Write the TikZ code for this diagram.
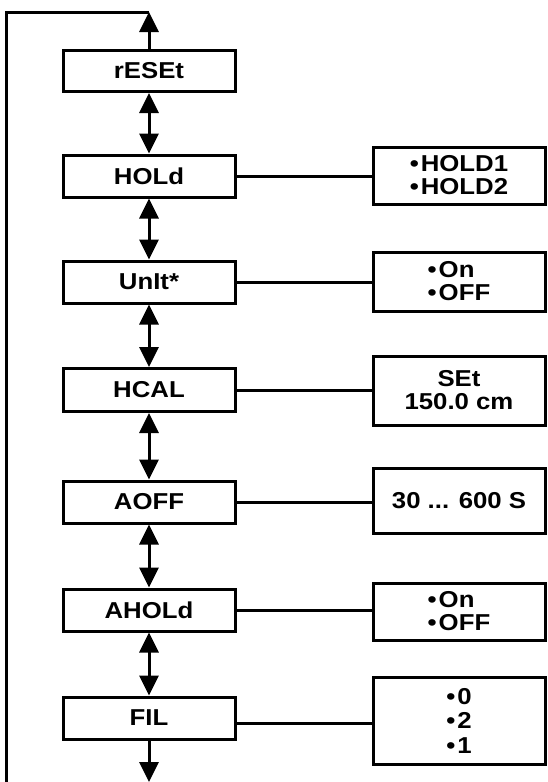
\documentclass[tikz,border=0pt]{standalone}
\usepackage{fontspec}
\setmainfont{Liberation Sans}
\newfontfamily\diagfont[FakeStretch=1.12]{Liberation Sans}
\usetikzlibrary{arrows.meta}
\newcommand{\bul}{\textbullet\hspace{2pt}}
\begin{document}
\begin{tikzpicture}[x=1pt,y=-1pt,
  menubox/.style={draw,line width=3pt,minimum width=172pt,inner sep=0pt,font=\diagfont\bfseries\fontsize{23}{23}\selectfont},
  valbox/.style={draw,line width=3pt,minimum width=172pt,inner sep=0pt,align=left,font=\diagfont\bfseries\fontsize{23}{23}\selectfont},
  link/.style={line width=3pt},
  dbl/.style={line width=3pt,{Triangle[width=19pt,length=20pt]}-{Triangle[width=19pt,length=20pt]}},
  sgl/.style={line width=3pt,-{Triangle[width=19pt,length=20pt]}}
]
\useasboundingbox (0,0) rectangle (547,782);
\node[menubox,minimum height=41pt] (reset) at (149,71) {rESEt};
\node[menubox,minimum height=42pt] (hold) at (149,176) {HOLd};
\node[menubox,minimum height=42pt] (unit) at (149,282) {UnIt*};
\node[menubox,minimum height=43pt] (hcal) at (149,390) {HCAL};
\node[menubox,minimum height=42pt] (aoff) at (149,502) {AOFF};
\node[menubox,minimum height=42pt] (ahold) at (149,610) {AHOLd};
\node[menubox,minimum height=42pt] (fil) at (149,718) {FIL};

\node[valbox,minimum height=57pt] (holdv) at (459,175.5) {\bul HOLD1\\\bul HOLD2};
\node[valbox,minimum height=59pt] (unitv) at (459,281.5) {\bul On\\\bul OFF};
\node[valbox,minimum height=69pt,align=center] (hcalv) at (459,390.5) {SEt\\150.0 cm};
\node[valbox,minimum height=65pt] (aoffv) at (459,500.5) {30 ... 600 S};
\node[valbox,minimum height=57pt] (aholdv) at (459,611.5) {\bul On\\\bul OFF};
\node[valbox,minimum height=87pt,font=\diagfont\bfseries\fontsize{23}{24.5}\selectfont] (filv) at (459,720.5) {\bul 0\\\bul 2\\\bul 1};

\coordinate (top) at (149,12);
\coordinate (tl) at (6,12);
\coordinate (bl) at (6,782);
\coordinate (bot) at (149,782);

\draw[sgl] (reset.north) -- (top);
\draw[link] (top) -- (tl) -- (bl);
\draw[dbl] (reset.south) -- (hold.north);
\draw[dbl] (hold.south) -- (unit.north);
\draw[dbl] (unit.south) -- (hcal.north);
\draw[dbl] (hcal.south) -- (aoff.north);
\draw[dbl] (aoff.south) -- (ahold.north);
\draw[dbl] (ahold.south) -- (fil.north);
\draw[sgl] (fil.south) -- (bot);

\draw[link] (hold.east) -- (hold.east -| holdv.west);
\draw[link] (unit.east) -- (unit.east -| unitv.west);
\draw[link] (hcal.east) -- (hcal.east -| hcalv.west);
\draw[link] (aoff.east) -- (aoff.east -| aoffv.west);
\draw[link] (ahold.east) -- (ahold.east -| aholdv.west);
\draw[link] ([yshift=-5pt]fil.east) -- ([yshift=-5pt]fil.east -| filv.west);
\end{tikzpicture}
\end{document}
